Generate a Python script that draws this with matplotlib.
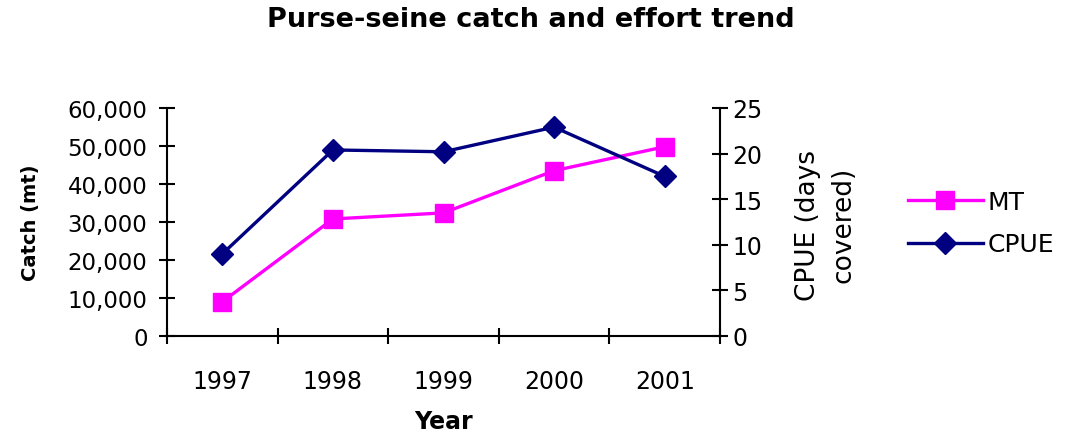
import matplotlib

matplotlib.use("Agg")

import numpy as np
from matplotlib import pyplot as plt
from matplotlib.ticker import FuncFormatter, MultipleLocator

years = ["1997", "1998", "1999", "2000", "2001"]
catch_mt = [9000, 30800, 32400, 43500, 49800]
cpue_days = [9.0, 20.4, 20.2, 22.9, 17.5]

# wide sans to mimic the stretched Excel lettering
plt.rcParams["font.family"] = ["DejaVu Sans"]

fig = plt.figure(figsize=(10.78, 4.39), dpi=100)
ax = fig.add_axes([167 / 1078, 1 - 337 / 439, (720 - 167) / 1078, (337 - 109) / 439])
ax2 = ax.twinx()

x = np.arange(len(years))
ax.plot(x, catch_mt, color="#FF00FF", linewidth=2.4, marker="s", markersize=13, label="MT", zorder=3)
ax2.plot(x, cpue_days, color="#000080", linewidth=2.4, marker="D", markersize=11, label="CPUE", zorder=3)

ax.set_xlim(-0.5, len(years) - 0.5)
ax.set_ylim(0, 60000)
ax2.set_ylim(0, 25)
ax.yaxis.set_major_locator(MultipleLocator(10000))
ax.yaxis.set_major_formatter(FuncFormatter(lambda v, _: f"{int(v):,}"))
ax2.yaxis.set_major_locator(MultipleLocator(5))

# year labels sit between the boundary ticks
ax.set_xticks(np.arange(-0.5, len(years)), labels=[])
ax.set_xticks(x, labels=years, minor=True)
ax.tick_params(axis="x", which="minor", length=0, pad=24, labelsize=17)
ax.tick_params(axis="x", which="major", direction="inout", length=12, width=1.5)
ax.tick_params(axis="y", direction="inout", length=12, width=1.5, pad=8, labelsize=16.5)
ax2.tick_params(axis="y", direction="inout", length=12, width=1.5, pad=3, labelsize=17)

for a in (ax, ax2):
    a.spines["top"].set_visible(False)
    for s in ("left", "right", "bottom"):
        a.spines[s].set_linewidth(1.5)
ax.spines["right"].set_visible(False)
ax2.spines["left"].set_visible(False)
ax2.spines["bottom"].set_visible(False)

ax.set_xlabel("Year", fontsize=17, fontweight="bold", labelpad=11)
ax.set_ylabel("Catch (mt)", fontsize=14, fontweight="bold")
ax.yaxis.set_label_coords((40 - 167) / 553, 0.5)
ax2.set_ylabel("CPUE (days\ncovered)", fontsize=19, linespacing=1.45)
ax2.yaxis.set_label_coords((795 - 167) / 553, 0.49)

fig.suptitle("Purse-seine catch and effort trend", x=531 / 1078, y=1 - 20 / 439,
             va="center", fontsize=19.5, fontweight="bold")

handles = ax.get_lines() + ax2.get_lines()
fig.legend(handles, [h.get_label() for h in handles], loc="center left",
           bbox_to_anchor=(885 / 1078, 1 - 224 / 439), frameon=False, fontsize=18,
           handlelength=3.0, handletextpad=0.2, labelspacing=0.75)

fig.savefig("out.png", dpi=100)
